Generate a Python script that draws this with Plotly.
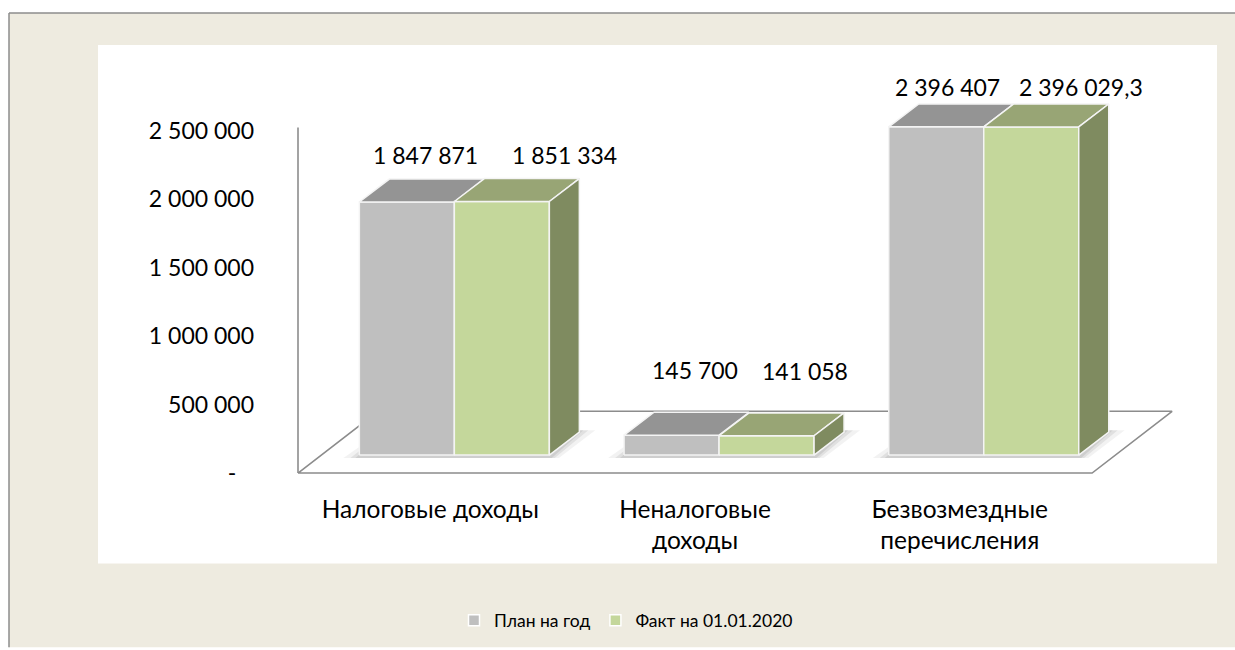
import plotly.graph_objects as go

# ---------------- data ----------------
CATEGORIES = ["Налоговые доходы", "Неналоговые<br>доходы", "Безвозмездные<br>перечисления"]
SERIES = ["План на год", "Факт на 01.01.2020"]
PLAN = [1847871, 145700, 2396407]
FACT = [1851334, 141058, 2396029.3]
Y_TICKS = [0, 500000, 1000000, 1500000, 2000000, 2500000]
Y_TICK_TEXT = ["-\u00a0\u00a0\u00a0", "500 000", "1 000 000", "1 500 000", "2 000 000", "2 500 000"]

# ---------------- style ----------------
FONT = "Lato"
GRAY_FRONT, GRAY_TOP = "#BFBFBF", "#949494"
GREEN_FRONT, GREEN_TOP, GREEN_SIDE = "#C4D79B", "#98A575", "#7F8B60"
EDGE = "#F4F4F4"
AXIS_LINE = "#8C8C8C"
BEIGE = "#EEEBE0"
LABEL_LIFT = [47, 65, 40]                 # vertical lift of value labels (px)
LABEL_DX = [[19, 23, 11], [63, 38, 50]]   # horizontal shift of value labels (px)

W, H = 1235, 650
# plot area in page pixels
PL, PR, PT, PB = 290, 1180, 40, 478
AX_X = 298                                 # px of the axis plane left edge
ZERO_Y = 475                               # px of value 0 on the axis plane
AX_TOP = 128                               # px where the vertical axis line ends
PX_PER_X = 264.7                           # px per category unit
PX_PER_M = 137.6                           # px per 1 000 000
VPP = 1e6 / PX_PER_M


def dx(px):
    return px / PX_PER_X


def dy(px):
    return px * VPP


def pxp(px):   # page pixel -> paper x
    return (px - PL) / (PR - PL)


def pyp(py):   # page pixel -> paper y
    return (PB - py) / (PB - PT)


X0 = -0.5
XR = [X0 - dx(AX_X - PL), X0 + dx(PR - AX_X)]
YR = [-dy(PB - ZERO_Y), dy(ZERO_Y - PT)]

FLOOR_D = (dx(80), dy(62))
BAR_OFF = (dx(24), dy(18))
BAR_D = (dx(30), dy(23))
BAR_W = dx(95)

fig = go.Figure()


def poly(xs, ys, fill, line=None, lw=0):
    fig.add_trace(go.Scatter(
        x=xs + [xs[0]], y=ys + [ys[0]], mode="lines", fill="toself",
        fillcolor=fill,
        line=dict(color=line if line else "rgba(0,0,0,0)", width=lw),
        showlegend=False, hoverinfo="skip"))


n = len(CATEGORIES)
# floor
fx, fy = FLOOR_D
poly([X0, X0 + n, X0 + n + fx, X0 + fx], [0, 0, fy, fy], "white", AXIS_LINE, 1.6)
# vertical axis line
fig.add_trace(go.Scatter(x=[X0, X0], y=[0, dy(ZERO_Y - AX_TOP)], mode="lines",
                         line=dict(color=AXIS_LINE, width=1.6),
                         showlegend=False, hoverinfo="skip"))

bx, by = BAR_D
for i in range(n):
    c = i + BAR_OFF[0]
    b = BAR_OFF[1]
    # soft shadows
    for grow, alpha in [(16, 0.05), (9, 0.07), (4, 0.08)]:
        g = dx(grow)
        poly([c - BAR_W - g, c + BAR_W + g * 0.6, c + BAR_W + bx + g, c - BAR_W + bx - g * 0.4],
             [b - dy(3), b - dy(3), b + by + dy(2), b + by + dy(2)],
             f"rgba(0,0,0,{alpha})")
    p, f = PLAN[i], FACT[i]
    # plan (gray)
    poly([c - BAR_W, c, c, c - BAR_W], [b, b, b + p, b + p], GRAY_FRONT, EDGE, 1.5)
    poly([c - BAR_W, c, c + bx, c - BAR_W + bx], [b + p, b + p, b + p + by, b + p + by], GRAY_TOP, EDGE, 1.5)
    # fact (green)
    poly([c, c + BAR_W, c + BAR_W, c], [b, b, b + f, b + f], GREEN_FRONT, EDGE, 1.5)
    poly([c, c + BAR_W, c + BAR_W + bx, c + bx], [b + f, b + f, b + f + by, b + f + by], GREEN_TOP, EDGE, 1.5)
    poly([c + BAR_W, c + BAR_W + bx, c + BAR_W + bx, c + BAR_W], [b, b + by, b + f + by, b + f], GREEN_SIDE, EDGE, 1.5)


def fmt(v):
    ip = int(v)
    s = f"{ip:,}".replace(",", " ")
    if v != ip:
        s += ("%.1f" % (v - ip))[1:].replace(".", ",")
    return s


for i in range(n):
    c = i + BAR_OFF[0]
    b = BAR_OFF[1]
    for k, (vals, xc) in enumerate([(PLAN, c - BAR_W / 2), (FACT, c + BAR_W / 2)]):
        fig.add_annotation(x=xc, y=b + vals[i], xref="x", yref="y", text=fmt(vals[i]),
                           showarrow=False, xanchor="center", yanchor="middle",
                           xshift=LABEL_DX[k][i], yshift=LABEL_LIFT[i],
                           font=dict(family=FONT, size=23, color="black"))

# legend entries
for name, col in zip(SERIES, [GRAY_FRONT, GREEN_FRONT]):
    fig.add_trace(go.Scatter(x=[None], y=[None], mode="markers", name=name,
                             marker=dict(symbol="square", size=11, color=col,
                                         line=dict(color="white", width=1.5))))

shapes = [
    dict(type="rect", xref="paper", yref="paper", layer="below",
         x0=pxp(9), x1=pxp(1235), y0=pyp(13), y1=pyp(650),
         fillcolor=BEIGE, line=dict(width=0)),
    dict(type="line", xref="paper", yref="paper", layer="below",
         x0=pxp(9), x1=pxp(1235), y0=pyp(13), y1=pyp(13),
         line=dict(color="#8D8D8D", width=1.5)),
    dict(type="line", xref="paper", yref="paper", layer="below",
         x0=pxp(9), x1=pxp(9), y0=pyp(13), y1=pyp(650),
         line=dict(color="#8D8D8D", width=1.5)),
    dict(type="rect", xref="paper", yref="paper", layer="below",
         x0=pxp(98), x1=pxp(1217), y0=pyp(45), y1=pyp(566),
         fillcolor="white", line=dict(width=0)),
]

fig.update_layout(
    width=W, height=H, autosize=False,
    margin=dict(l=PL, r=W - PR, t=PT, b=H - PB, pad=0),
    paper_bgcolor="white", plot_bgcolor="rgba(0,0,0,0)",
    shapes=shapes,
    font=dict(family=FONT, color="black"),
    xaxis=dict(range=XR, tickvals=list(range(n)), ticktext=CATEGORIES,
               showgrid=False, zeroline=False, showline=False, ticks="",
               tickfont=dict(family=FONT, size=24.5, color="black"),
               ticklabelstandoff=16, fixedrange=True),
    yaxis=dict(range=YR, tickvals=Y_TICKS, ticktext=Y_TICK_TEXT,
               showgrid=False, zeroline=False, showline=False, ticks="",
               tickfont=dict(family=FONT, size=23, color="black"),
               ticklabelstandoff=35, fixedrange=True),
    showlegend=True,
    legend=dict(orientation="h", x=pxp(626), xanchor="center", y=pyp(623), yanchor="middle",
                font=dict(family=FONT, size=17.5, color="black"), bgcolor="rgba(0,0,0,0)",
                itemwidth=30),
)

fig.write_html(
    "out.html",
    config={"displayModeBar": False, "staticPlot": True},
    post_script=("document.body.style.margin='0';document.body.style.overflow='hidden';"
                 "document.documentElement.style.overflow='hidden';"),
)
